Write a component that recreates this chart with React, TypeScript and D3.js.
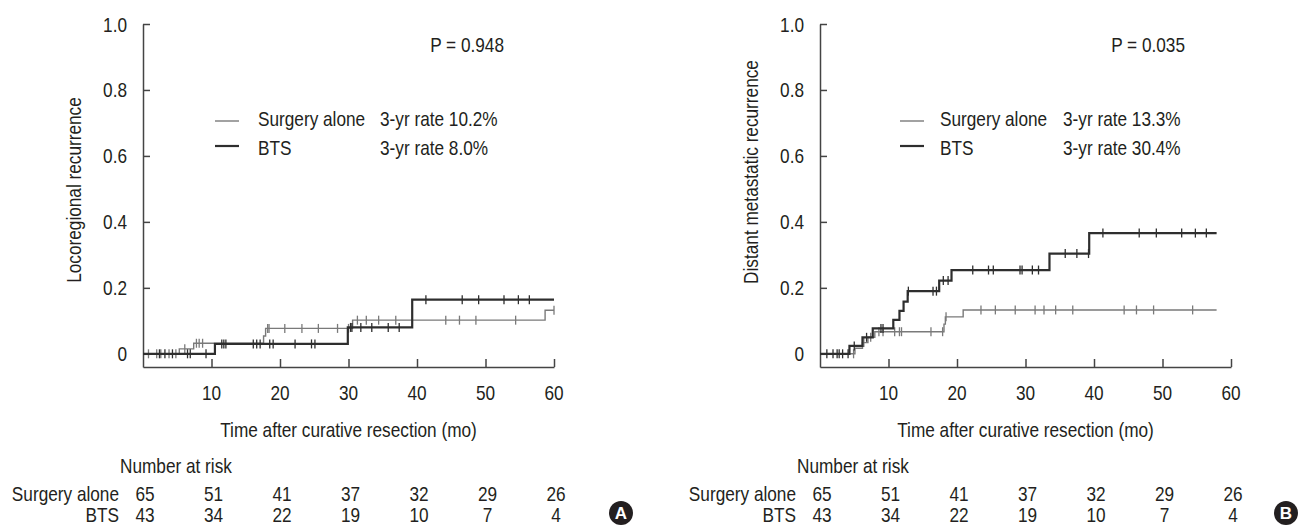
import React, { useEffect, useRef } from "react"
import * as d3 from "d3"

// shared axis / risk table values
const timeTicks = [10, 20, 30, 40, 50, 60]
const yTicks = [0, 0.2, 0.4, 0.6, 0.8, 1.0]
const riskTimes = [0, 10, 20, 30, 40, 50, 60]
const groups = ["Surgery alone", "BTS"]
const riskSurgery = [65, 51, 41, 37, 32, 29, 26]
const riskBTS = [43, 34, 22, 19, 10, 7, 4]

// panel A: locoregional recurrence. steps = [month, cumulative rate]
const stepsA_surgery: [number, number][] = [[0, 0], [5.3, 0.015], [7.4, 0.032], [17.6, 0.054], [17.9, 0.077], [30.6, 0.102], [58.7, 0.132], [60, 0.132]]
const stepsA_bts: [number, number][] = [[0, 0], [10.5, 0.03], [29.9, 0.08], [39.3, 0.164], [60, 0.164]]
const censorA_surgery = [0.8, 2.0, 2.6, 3.8, 4.8, 6.1, 7.8, 8.2, 8.7, 18.2, 18.4, 20.7, 23.2, 25.6, 28.4, 30.0, 31.3, 32.6, 34.4, 36.9, 44.2, 46.2, 48.6, 54.4, 60]
const censorA_bts = [2.4, 3.2, 4.3, 6.5, 6.9, 9.2, 11.5, 11.8, 12.1, 16.1, 16.6, 17.1, 18.5, 19.0, 22.2, 24.6, 25.1, 30.3, 30.5, 31.8, 33.4, 35.8, 37.4, 41.3, 46.6, 49.0, 52.7, 54.8, 56.4]

// panel B: distant metastatic recurrence
const stepsB_surgery: [number, number][] = [[0, 0], [5.1, 0.017], [6.2, 0.034], [7.0, 0.05], [8.0, 0.067], [18.1, 0.09], [18.3, 0.112], [20.9, 0.133], [57.9, 0.133]]
const stepsB_bts: [number, number][] = [[0, 0], [4.3, 0.024], [6.2, 0.05], [7.7, 0.077], [10.7, 0.103], [11.6, 0.13], [12.2, 0.158], [12.8, 0.19], [17.4, 0.222], [19.2, 0.254], [33.5, 0.304], [39.3, 0.366], [57.9, 0.366]]
const censorB_surgery = [4.9, 6.4, 7.4, 8.6, 9.2, 10.9, 11.6, 11.9, 16.2, 17.9, 18.4, 23.5, 25.6, 28.5, 31.4, 32.7, 34.4, 36.9, 44.4, 46.2, 48.7, 54.4]
const censorB_bts = [1.0, 1.9, 2.5, 2.8, 3.3, 4.1, 5.0, 6.8, 8.9, 9.2, 12.9, 16.5, 17.0, 18.0, 18.7, 22.3, 24.6, 25.3, 29.2, 29.5, 31.0, 31.9, 35.8, 37.5, 39.2, 41.3, 46.6, 49.1, 52.8, 54.8, 56.4]

// no narrow font installed -> squeeze Liberation Sans (arial metrics) horizontally
const FONT = "'Liberation Sans', Arial, sans-serif"
const SX = 0.82
const FS = 21
const TEXT = "#231f20"
const GRAY = "#7a7a7a"
const DARK = "#2e2e2e"

const panels = [
  {
    x0: 143, yLabel: "Locoregional recurrence", yLabelY: 190, p: "P = 0.948",
    rates: ["3-yr rate 10.2%", "3-yr rate 8.0%"],
    steps: [stepsA_surgery, stepsA_bts], censors: [censorA_surgery, censorA_bts],
    letter: "A", letterX: 621, leg: [72, 115, 237, 361]
  },
  {
    x0: 820, yLabel: "Distant metastatic recurrence", yLabelY: 172, p: "P = 0.035",
    rates: ["3-yr rate 13.3%", "3-yr rate 30.4%"],
    steps: [stepsB_surgery, stepsB_bts], censors: [censorB_surgery, censorB_bts],
    letter: "B", letterX: 1286, leg: [80, 120, 243, 365]
  }
]

function valueAt(steps: [number, number][], t: number) {
  let v = 0
  for (const s of steps) if (s[0] <= t) v = s[1]
  return v
}

function label(g: any, x: number, y: number, s: string | number, anchor = "start", rot = 0) {
  return g.append("text")
    .attr("transform", `translate(${x},${y})${rot ? ` rotate(${rot})` : ""} scale(${SX},1)`)
    .attr("text-anchor", anchor)
    .attr("font-family", FONT).attr("font-size", FS).attr("fill", TEXT)
    .text(s)
}

function drawPanel(svg: any, cfg: any) {
  const x = d3.scaleLinear().domain([0, 60]).range([cfg.x0, cfg.x0 + 411])
  const y = d3.scaleLinear().domain([-0.04, 1]).range([367, 24])
  const g = svg.append("g")

  // axes, ticks point inward; labels drawn separately so they can be condensed
  g.append("g")
    .attr("transform", "translate(0,367)")
    .call(d3.axisBottom(x).tickValues(timeTicks).tickSize(-8).tickSizeOuter(0).tickFormat(() => ""))
  g.append("g")
    .attr("transform", `translate(${cfg.x0},0)`)
    .call(d3.axisLeft(y).tickValues(yTicks).tickSize(-7).tickSizeOuter(0).tickFormat(() => ""))
  g.selectAll(".domain, .tick line").attr("stroke", "#444").attr("stroke-width", 1.5)

  timeTicks.forEach(t => label(g, x(t), 400, t, "middle"))
  yTicks.forEach(v => label(g, cfg.x0 - 16, y(v) + 7.5, v === 0 ? "0" : d3.format(".1f")(v), "end"))

  label(g, cfg.x0 - 70, cfg.yLabelY, cfg.yLabel, "middle", -90).attr("dy", "0.36em")
  label(g, x(30), 437, "Time after curative resection (mo)", "middle")

  // curves + censor marks
  const line = d3.line<[number, number]>().x(d => x(d[0])).y(d => y(d[1])).curve(d3.curveStepAfter)
  const colors = [GRAY, DARK]
  const widths = [1.4, 2.2]
  cfg.steps.forEach((steps: [number, number][], i: number) => {
    g.append("path").datum(steps).attr("d", line)
      .attr("fill", "none").attr("stroke", colors[i]).attr("stroke-width", widths[i])
    g.selectAll(null).data(cfg.censors[i]).enter().append("line")
      .attr("x1", (t: number) => x(t)).attr("x2", (t: number) => x(t))
      .attr("y1", (t: number) => y(valueAt(steps, t)) - 4.5)
      .attr("y2", (t: number) => y(valueAt(steps, t)) + 4.5)
      .attr("stroke", colors[i]).attr("stroke-width", 1.3)
  })

  // p value + legend
  const [lx, tx, rx, pr] = cfg.leg
  label(g, cfg.x0 + pr, 52, cfg.p, "end")
  groups.forEach((name, i) => {
    const by = 126 + i * 29
    const ly = i ? 146 : 121
    g.append("line").attr("x1", cfg.x0 + lx).attr("x2", cfg.x0 + lx + 24)
      .attr("y1", ly).attr("y2", ly)
      .attr("stroke", colors[i]).attr("stroke-width", widths[i])
    label(g, cfg.x0 + tx, by, name)
    label(g, cfg.x0 + rx, by, cfg.rates[i])
  })

  // number at risk table
  label(g, cfg.x0 - 23, 473, "Number at risk")
  const rows = [riskSurgery, riskBTS]
  rows.forEach((vals, i) => {
    const by = 501 + i * 20.5
    label(g, cfg.x0 - 24, by, groups[i], "end")
    vals.forEach((v, j) => label(g, x(riskTimes[j]) + 2, by, v, "middle"))
  })

  // panel letter
  g.append("circle").attr("cx", cfg.letterX).attr("cy", 513).attr("r", 12).attr("fill", TEXT)
  g.append("text").attr("x", cfg.letterX).attr("y", 513).attr("dy", "0.36em")
    .attr("text-anchor", "middle").attr("font-family", FONT)
    .attr("font-weight", "bold").attr("font-size", 17).attr("fill", "#fff").text(cfg.letter)
}

export default function App() {
  const ref = useRef<SVGSVGElement>(null)

  useEffect(() => {
    const svg = d3.select(ref.current)
    svg.selectAll("*").remove()
    panels.forEach(p => drawPanel(svg, p))
  }, [])

  return (
    <svg ref={ref} width={1302} height={526}
      style={{ position: "absolute", left: 0, top: 0, background: "#fff" }} />
  )
}
